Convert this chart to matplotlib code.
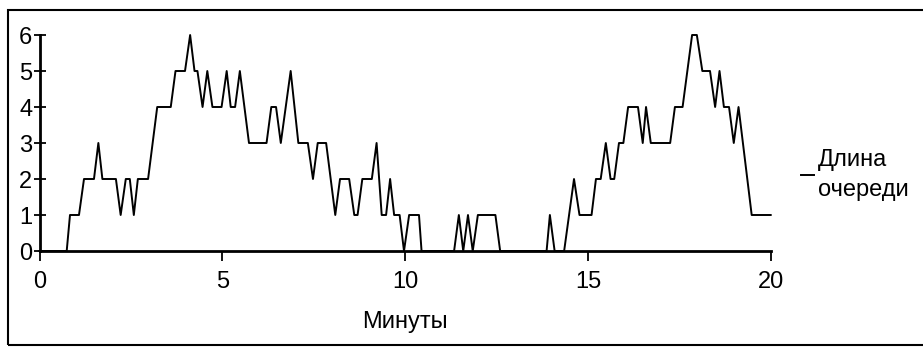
import matplotlib
matplotlib.use("Agg")
import matplotlib.pyplot as plt
from matplotlib.patches import Rectangle

plt.rcParams['font.family'] = ['Liberation Sans', 'DejaVu Sans']

# Queue length over time (minutes)
minutes = [0.0, 0.744, 0.834, 1.08, 1.217, 1.49, 1.61, 1.72, 2.09, 2.22,
           2.36, 2.47, 2.58, 2.69, 2.97, 3.22, 3.59, 3.72, 3.98, 4.12,
           4.24, 4.32, 4.46, 4.59, 4.73, 4.98, 5.12, 5.23, 5.35, 5.48,
           5.73, 6.21, 6.34, 6.47, 6.60, 6.87, 7.08, 7.34, 7.48, 7.61,
           7.84, 8.09, 8.22, 8.47, 8.61, 8.70, 8.83, 9.09, 9.22, 9.36,
           9.48, 9.59, 9.70, 9.85, 9.97, 10.11, 10.38, 10.45, 11.34, 11.47,
           11.59, 11.72, 11.85, 11.99, 12.47, 12.60, 13.87, 13.96, 14.09, 14.35,
           14.62, 14.77, 15.10, 15.22, 15.35, 15.49, 15.62, 15.72, 15.85, 15.97,
           16.10, 16.37, 16.50, 16.59, 16.72, 17.25, 17.38, 17.59, 17.85, 17.98,
           18.13, 18.34, 18.48, 18.60, 18.72, 18.86, 18.99, 19.12, 19.48, 20.0]
queue_len = [0, 0, 1, 1, 2, 2, 3, 2, 2, 1,
             2, 2, 1, 2, 2, 4, 4, 5, 5, 6,
             5, 5, 4, 5, 4, 4, 5, 4, 4, 5,
             3, 3, 4, 4, 3, 5, 3, 3, 2, 3,
             3, 1, 2, 2, 1, 1, 2, 2, 3, 1,
             1, 2, 1, 1, 0, 1, 1, 0, 0, 1,
             0, 1, 0, 1, 1, 0, 0, 1, 0, 0,
             2, 1, 1, 2, 2, 3, 2, 2, 3, 3,
             4, 4, 3, 4, 3, 3, 4, 4, 6, 6,
             5, 5, 4, 5, 4, 4, 3, 4, 1, 1]

x_ticks = [0, 5, 10, 15, 20]
y_ticks = [0, 1, 2, 3, 4, 5, 6]
x_label = "Минуты"
series_label = "Длина\nочереди"

FS = 17
W, H = 923, 347
fig = plt.figure(figsize=(W / 100, H / 100), dpi=100)
ax = fig.add_axes([39.5 / W, (H - 251) / H, 731.2 / W, 216 / H])

ax.plot(minutes, queue_len, color='black', lw=1.4, clip_on=False,
        label=series_label)

ax.set_xlim(0, 20)
ax.set_ylim(0, 6)
ax.set_xticks(x_ticks)
ax.set_yticks(y_ticks)
for s in ('top', 'right'):
    ax.spines[s].set_visible(False)
for s in ('left', 'bottom'):
    ax.spines[s].set_linewidth(2)
ax.tick_params(axis='y', direction='inout', length=8.5, width=1.3,
               labelsize=FS, pad=1)
ax.tick_params(axis='x', direction='out', length=7, width=1.3,
               labelsize=FS, pad=7.5)
ax.set_xlabel(x_label, fontsize=FS, labelpad=13)

leg = ax.legend(loc='center left', bbox_to_anchor=(801 / W, (H - 175) / H),
                bbox_transform=fig.transFigure, frameon=False, fontsize=FS,
                handlelength=0.55, handletextpad=0.15, borderpad=0,
                borderaxespad=0)
for txt in leg.get_texts():
    txt.set_linespacing(1.45)

# frame around the whole figure
fig.patches.append(Rectangle((8 / W, 2.5 / H), 1.0, (H - 12.5) / H,
                             transform=fig.transFigure, fill=False,
                             edgecolor='black', lw=1.5, zorder=0))

fig.savefig("out.png", dpi=100)
